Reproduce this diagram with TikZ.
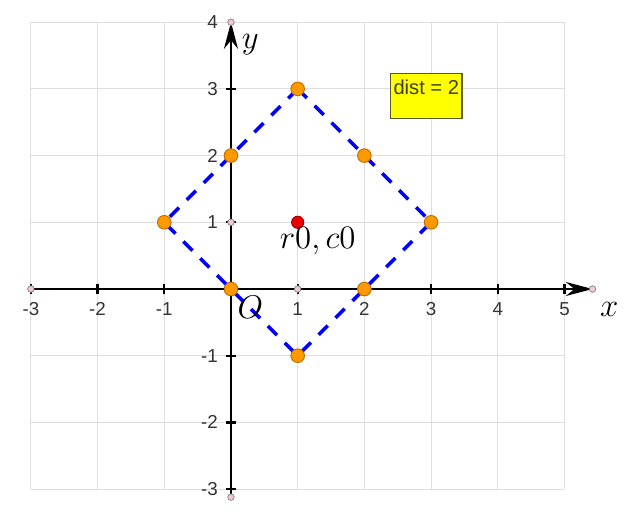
\RequirePackage{fix-cm}
\documentclass[tikz,border=0pt]{standalone}
\usepackage{fontspec}
\usepackage{amsmath}
\usepackage{xcolor}
\usepackage{tikz}
\usetikzlibrary{
	arrows.meta,
	positioning
}
\newfontfamily\ticksfont{Liberation Sans}
\definecolor{GridGray}{RGB}{222,222,222}
\definecolor{TickGray}{RGB}{51,51,51}
\definecolor{DashBlue}{RGB}{0,0,255}
\definecolor{DotOrange}{RGB}{255,153,0}
\definecolor{DotEdge}{RGB}{190,110,0}
\definecolor{DotRed}{RGB}{235,0,0}
\definecolor{DotPink}{RGB}{240,200,210}
\definecolor{BoxYellow}{RGB}{255,255,0}
\definecolor{BoxEdge}{RGB}{90,90,30}

\begin{document}
\begin{tikzpicture}[scale=1,
		vertex/.style={circle, fill=DotOrange, draw=DotEdge, line width=0.4pt, inner sep=0pt, minimum size=5.8pt},
		centerdot/.style={circle, fill=DotRed, draw=DotRed!70!black, line width=0.4pt, inner sep=0pt, minimum size=5.2pt},
		axisdot/.style={circle, fill=DotPink, draw=gray, line width=0.3pt, inner sep=0pt, minimum size=2.8pt},
		ticklabel/.style={font=\ticksfont\fontsize{8}{9}\selectfont, text=TickGray, inner sep=0pt},
		mathlabel/.style={font=\fontsize{14}{16}\selectfont, inner sep=0pt},
		distbox/.style={draw=BoxEdge, fill=BoxYellow, line width=0.6pt, text=BoxEdge!70!black,
			font=\ticksfont\fontsize{8.6}{10}\selectfont, inner xsep=1.2pt, inner ysep=2pt,
			text height=7pt, text depth=8pt},
		axis/.style={line width=0.95pt, -{Stealth[length=4mm, width=2.1mm, inset=1.3mm]}}]
		\useasboundingbox (-3.463,-3.508) rectangle (6.027,4.333);
		\draw[GridGray, line width=0.4pt] (-3,-3) grid (5,4);

		\coordinate (xmin) at (-3,0);
		\coordinate (xmax) at (5.42,0);
		\coordinate (ymin) at (0,-3.12);
		\coordinate (ymax) at (0,4);
		\draw[axis] (xmin) -- (xmax);
		\draw[axis] (ymin) -- (ymax);

		\foreach \i in {-3,-2,-1,1,2,3,4,5} {
			\draw[line width=0.95pt] (\i,-0.08) -- (\i,0.08);
			\node[ticklabel, anchor=north] (xl\i) at (\i,-0.2) {\i};
		}
		\foreach \i in {-3,-2,-1,1,2,3,4} {
			\ifnum\i<4 \draw[line width=0.95pt] (-0.08,\i) -- (0.08,\i); \fi
			\node[ticklabel, anchor=east] (yl\i) at (-0.19,\i) {\i};
		}

		% |x-1| + |y-1| = 2
		\coordinate (top) at (1,3);
		\coordinate (right) at (3,1);
		\coordinate (bottom) at (1,-1);
		\coordinate (left) at (-1,1);
		\draw[DashBlue, line width=1.5pt, dash pattern=on 5.5pt off 4.7pt] (top) -- (right) -- (bottom) -- (left) -- cycle;

		\foreach \p in {xmin, xmax, ymin, ymax} \node[axisdot] (end-\p) at (\p) {};
		\node[axisdot] (px) at (1,0) {};
		\node[axisdot] (py) at (0,1) {};

		\foreach \x/\y [count=\k] in {1/3, 2/2, 3/1, 2/0, 1/-1, 0/0, -1/1, 0/2}
			\node[vertex] (v\k) at (\x,\y) {};

		\node[centerdot] (c) at (1,1) {};
		\node[mathlabel] (clabel) at (1.3,0.72) {$r0, c0$};

		\node[mathlabel] (xlabel) at (5.67,-0.3) {$x$};
		\node[mathlabel] (ylabel) at (0.29,3.66) {$y$};
		\node[mathlabel] (origin) at (0.29,-0.28) {$O$};

		\node[distbox, anchor=north west] (dist) at (2.384,3.238) {dist = 2};
	\end{tikzpicture}
\end{document}
